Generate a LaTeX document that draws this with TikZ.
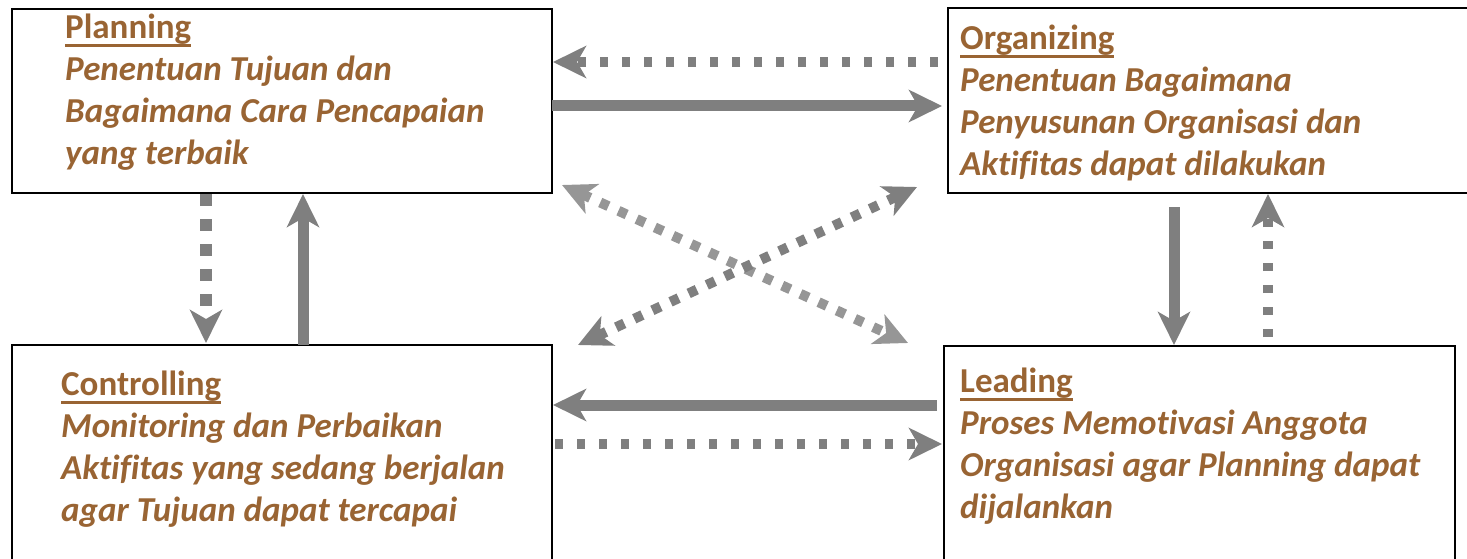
\documentclass[tikz,border=0pt]{standalone}
\usepackage{fontspec}
\setmainfont{Carlito}[Ligatures={NoCommon}]
\usetikzlibrary{arrows.meta}
\definecolor{txtbrown}{RGB}{153,100,51}
\definecolor{arrgray}{RGB}{127,127,127}
\definecolor{arrlight}{RGB}{150,150,150}
% underlined heading with a rule close under the baseline
\newcommand\headline[1]{\leavevmode\setbox0\hbox{\bfseries #1}\rlap{\rule[-9pt]{\wd0}{3pt}}\box0}
\tikzset{
  panel/.style={draw=black, line width=2.2pt},
  txt/.style={anchor=north west, inner sep=0pt, align=left, text=txtbrown,
    font=\fontsize{35}{42}\selectfont\bfseries\itshape},
  tip/.style={-{Stealth[length=33pt, width=32pt, inset=9pt]}},
  tips/.style={{Stealth[length=33pt, width=32pt, inset=9pt]}-{Stealth[length=33pt, width=32pt, inset=9pt]}},
  solidarr/.style={tip, draw=arrgray, line width=11pt},
  dotarr/.style={tip, draw=arrgray, line width=10pt, dash pattern=on 8pt off 14pt},
  dotarrv/.style={tip, draw=arrgray, line width=12pt, dash pattern=on 12pt off 13pt},
}
\begin{document}
\begin{tikzpicture}[x=1pt, y=-1pt]
\clip (0,0) rectangle (1467,559);

% the four function boxes
\draw[panel] (12,9) rectangle (552,193);
\draw[panel] (948,8) rectangle (1480,193);
\draw[panel] (12,345) rectangle (552,580);
\draw[panel] (944,346) rectangle (1455,580);

\node[txt] (plan) at (65,8.6) {\strut\headline{\upshape Planning}\\
  Penentuan Tujuan dan\\ Bagaimana Cara Pencapaian\\ yang terbaik};
\node[txt] (org) at (960,19.6) {\strut\headline{\upshape Organizing}\\
  Penentuan Bagaimana\\ Penyusunan Organisasi dan\\ Aktifitas dapat dilakukan};
\node[txt] (ctrl) at (61,365.6) {\strut\headline{\upshape Controlling}\\
  Monitoring dan Perbaikan\\ Aktifitas yang sedang berjalan\\ agar Tujuan dapat tercapai};
\node[txt] (lead) at (960,362.6) {\strut\headline{\upshape Leading}\\
  Proses Memotivasi Anggota\\ Organisasi agar Planning dapat\\ dijalankan};

% arrow end points
\coordinate (a1s) at (938,62);   \coordinate (a1e) at (553,62);
\coordinate (a2s) at (552,106);  \coordinate (a2e) at (942,106);
\coordinate (a3s) at (206,194);  \coordinate (a3e) at (206,343);
\coordinate (a4s) at (303,345);  \coordinate (a4e) at (303,194);
\coordinate (a5s) at (1174,207); \coordinate (a5e) at (1174,345);
\coordinate (a6s) at (1268,337); \coordinate (a6e) at (1268,194);
\coordinate (a7s) at (937,405);  \coordinate (a7e) at (553,405);
\coordinate (a8s) at (555,444);  \coordinate (a8e) at (942,444);
\coordinate (x1s) at (562,185);  \coordinate (x1e) at (908,343);
\coordinate (x2s) at (578,345);  \coordinate (x2e) at (917,187);

% connectors between the boxes
\draw[dotarr] (a1s) -- (a1e);
\draw[solidarr] (a2s) -- (a2e);
\draw[dotarrv] (a3s) -- (a3e);
\draw[solidarr] (a4s) -- (a4e);
\draw[solidarr] (a5s) -- (a5e);
\draw[dotarr] (a6s) -- (a6e);
\draw[solidarr] (a7s) -- (a7e);
\draw[dotarr] (a8s) -- (a8e);
\draw[tips, draw=arrlight, line width=10pt, dash pattern=on 9pt off 11pt] (x1s) -- (x1e);
\draw[tips, draw=arrgray, line width=10pt, dash pattern=on 9pt off 11pt] (x2s) -- (x2e);
\end{tikzpicture}
\end{document}
